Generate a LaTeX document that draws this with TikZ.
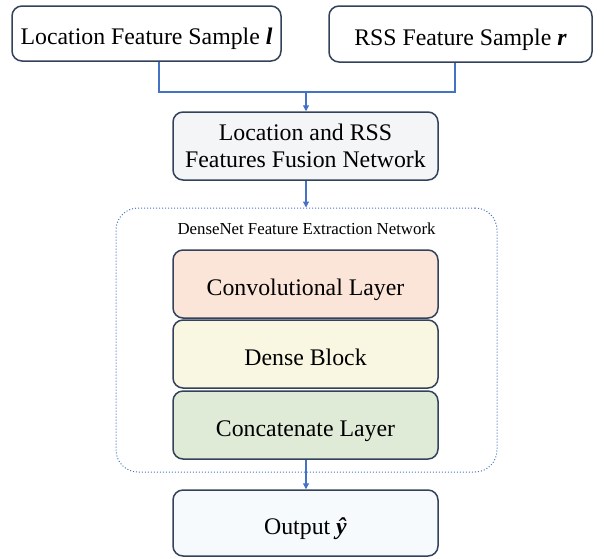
\documentclass[tikz,border=0pt]{standalone}
\usepackage{fontspec}
\setmainfont{Liberation Serif}
\usetikzlibrary{arrows.meta,calc}
\definecolor{bordc}{HTML}{33425B}
\definecolor{linec}{HTML}{4472C4}
\definecolor{fusionc}{HTML}{F4F5F7}
\definecolor{convc}{HTML}{FBE5D8}
\definecolor{densec}{HTML}{F9F6E1}
\definecolor{concc}{HTML}{DFEBD7}
\definecolor{outc}{HTML}{F6FAFD}
\tikzset{
  box/.style={draw=bordc, line width=1.5pt, rounded corners=10pt, align=center, inner sep=0pt, font=\fontsize{23.8}{27}\selectfont},
  onebox/.style={box, text height=23pt, text depth=1pt},
  conn/.style={draw=linec, line width=1.1pt},
  arr/.style={conn, -{Triangle[length=6pt,width=6pt]}},
}
\begin{document}
\begin{tikzpicture}[x=1pt,y=-1pt]
\useasboundingbox (0,0) rectangle (604,558);
\node[onebox, fill=white, minimum width=269pt, minimum height=55pt] (L) at (146.5,33.5) {Location Feature Sample \textbf{\textit{l}}};
\node[onebox, fill=white, minimum width=263pt, minimum height=56pt] (R) at (460.5,34) {RSS Feature Sample \textbf{\textit{r}}};
\node[box, fill=fusionc, minimum width=265pt, minimum height=68pt] (F) at (305.5,146) {Location and RSS\\Features Fusion Network};
\node[draw=linec, dotted, line width=1pt, rounded corners=22pt, minimum width=381pt, minimum height=264pt, inner sep=0pt] (D) at (306.5,340) {};
\node[font=\fontsize{16.8}{19}\selectfont] (DL) at (306.5,229) {DenseNet Feature Extraction Network};
\node[onebox, fill=convc, minimum width=265pt, minimum height=68pt] (C1) at (305.5,284) {Convolutional Layer};
\node[onebox, fill=densec, minimum width=265pt, minimum height=68pt] (C2) at (305.5,354) {Dense Block};
\node[onebox, fill=concc, minimum width=265pt, minimum height=68pt] (C3) at (305.5,425) {Concatenate Layer};
\node[onebox, fill=outc, minimum width=265pt, minimum height=66pt] (O) at (305.5,523) {Output \textbf{\textit{ŷ}}};
\coordinate (jl) at (159,92);
\coordinate (jr) at (455,92);
\coordinate (jm) at (306,92);
\draw[conn] (L.south -| jl) -- (jl) -- (jr) -- (R.south -| jr);
\draw[arr] (jm) -- (F.north -| jm);
\draw[arr] (F.south -| jm) -- (D.north -| jm);
\draw[arr] (C3.south -| jm) -- (O.north -| jm);
\end{tikzpicture}
\end{document}
